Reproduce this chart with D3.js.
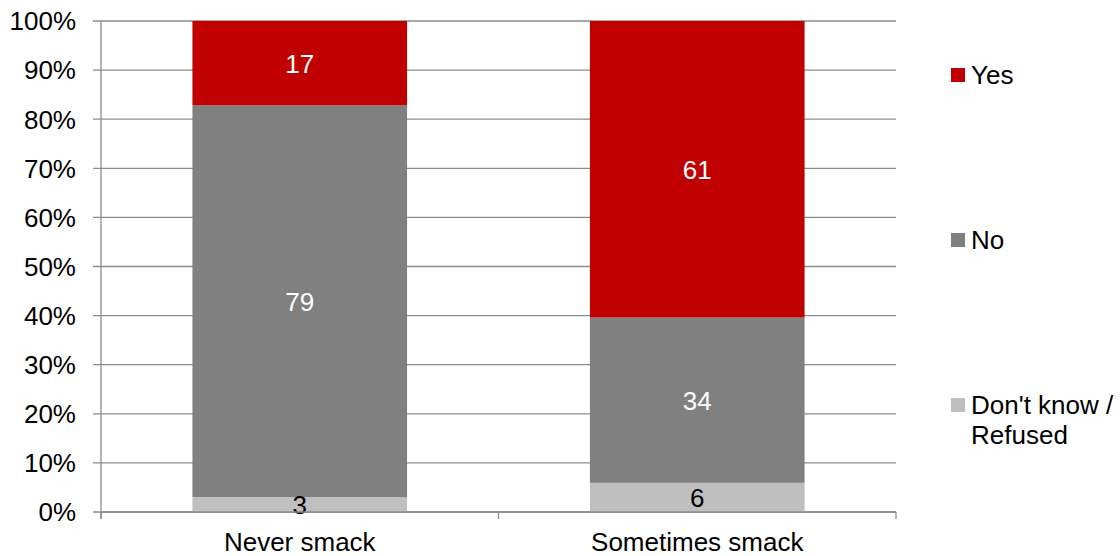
<!DOCTYPE html>
<html>
<head>
<meta charset="utf-8">
<script src="https://cdn.jsdelivr.net/npm/d3@7"></script>
<style>
  body { margin: 0; background: #fff; }
  text { font-family: "Liberation Sans", Arial, sans-serif; }
</style>
</head>
<body>
<div id="chart"></div>
<script>
// data
const categories = ["Never smack", "Sometimes smack"];
const seriesNames = ["Don't know / Refused", "No", "Yes"];
const dontKnow = [3, 6];
const no = [79, 34];
const yes = [17, 61];
const yTicks = [0, 0.1, 0.2, 0.3, 0.4, 0.5, 0.6, 0.7, 0.8, 0.9, 1];
const colors = ["#bfbfbf", "#808080", "#c00000"];
const labelColors = ["#000", "#fff", "#fff"];

const width = 1120, height = 556;
const margin = {top: 21, right: 224, bottom: 44, left: 101};
const w = width - margin.left - margin.right;
const h = height - margin.top - margin.bottom;
const fs = 26;

const svg = d3.select("#chart").append("svg")
    .attr("width", width)
    .attr("height", height)
  .append("g")
    .attr("transform", "translate(" + margin.left + "," + margin.top + ")");

const rows = categories.map((c, i) => ({cat: c, 0: dontKnow[i], 1: no[i], 2: yes[i]}));
const stack = d3.stack().keys([0, 1, 2]).offset(d3.stackOffsetExpand);
const layers = stack(rows);

const x = d3.scaleBand().domain(categories).range([0, w]).paddingInner(0.46).paddingOuter(0.23);
const y = d3.scaleLinear().domain([0, 1]).range([h, 0]);

// gridlines
svg.append("g")
  .selectAll("line")
  .data(yTicks)
  .join("line")
    .attr("x1", -8).attr("x2", w)
    .attr("y1", d => y(d)).attr("y2", d => y(d))
    .attr("stroke", "#8c8c8c").attr("stroke-width", 1.3);

// y labels
svg.append("g")
  .selectAll("text")
  .data(yTicks)
  .join("text")
    .attr("x", -25)
    .attr("y", d => y(d))
    .attr("dy", "0.36em")
    .attr("text-anchor", "end")
    .attr("font-size", fs)
    .text(d3.format(".0%"));

// bars
const layer = svg.append("g").selectAll("g")
  .data(layers)
  .join("g")
    .attr("fill", (d, i) => colors[i]);

layer.selectAll("rect")
  .data(d => d)
  .join("rect")
    .attr("x", d => x(d.data.cat))
    .attr("width", x.bandwidth())
    .attr("y", d => y(d[1]))
    .attr("height", d => y(d[0]) - y(d[1]));

// value labels
svg.append("g").selectAll("g")
  .data(layers)
  .join("g")
    .attr("fill", (d, i) => labelColors[i])
  .selectAll("text")
  .data((d, i) => d.map(s => ({s: s, v: s.data[i]})))
  .join("text")
    .attr("x", d => x(d.s.data.cat) + x.bandwidth() / 2)
    .attr("y", d => (y(d.s[0]) + y(d.s[1])) / 2)
    .attr("dy", "0.36em")
    .attr("text-anchor", "middle")
    .attr("font-size", fs)
    .text(d => d.v);

// axes lines
svg.append("line")
    .attr("x1", 0).attr("x2", 0).attr("y1", 0).attr("y2", h + 7)
    .attr("stroke", "#8c8c8c").attr("stroke-width", 1.3);
svg.append("line")
    .attr("x1", 0).attr("x2", w).attr("y1", h).attr("y2", h)
    .attr("stroke", "#8c8c8c").attr("stroke-width", 1.3);

// category ticks at band edges
svg.append("g").selectAll("line")
  .data(d3.range(categories.length + 1))
  .join("line")
    .attr("x1", i => i * w / categories.length)
    .attr("x2", i => i * w / categories.length)
    .attr("y1", h).attr("y2", h + 7)
    .attr("stroke", "#8c8c8c").attr("stroke-width", 1.3);

svg.append("g").selectAll("text")
  .data(categories)
  .join("text")
    .attr("x", d => x(d) + x.bandwidth() / 2)
    .attr("y", h + 39)
    .attr("text-anchor", "middle")
    .attr("font-size", fs)
    .text(d => d);

// legend
const legendY = [75, 240, 405];
const legend = svg.append("g")
    .attr("transform", "translate(" + (951 - margin.left) + ",0)");
const items = [2, 1, 0];
items.forEach((k, j) => {
  const g = legend.append("g").attr("transform", "translate(0," + (legendY[j] - margin.top) + ")");
  g.append("rect").attr("x", 0).attr("y", -7).attr("width", 14).attr("height", 14).attr("fill", colors[k]);
  const lines = k === 0 ? ["Don't know /", "Refused"] : [seriesNames[k]];
  lines.forEach((t, li) => {
    g.append("text")
      .attr("x", 20)
      .attr("y", li * 30)
      .attr("dy", "0.36em")
      .attr("font-size", fs)
      .text(t);
  });
});
</script>
</body>
</html>
